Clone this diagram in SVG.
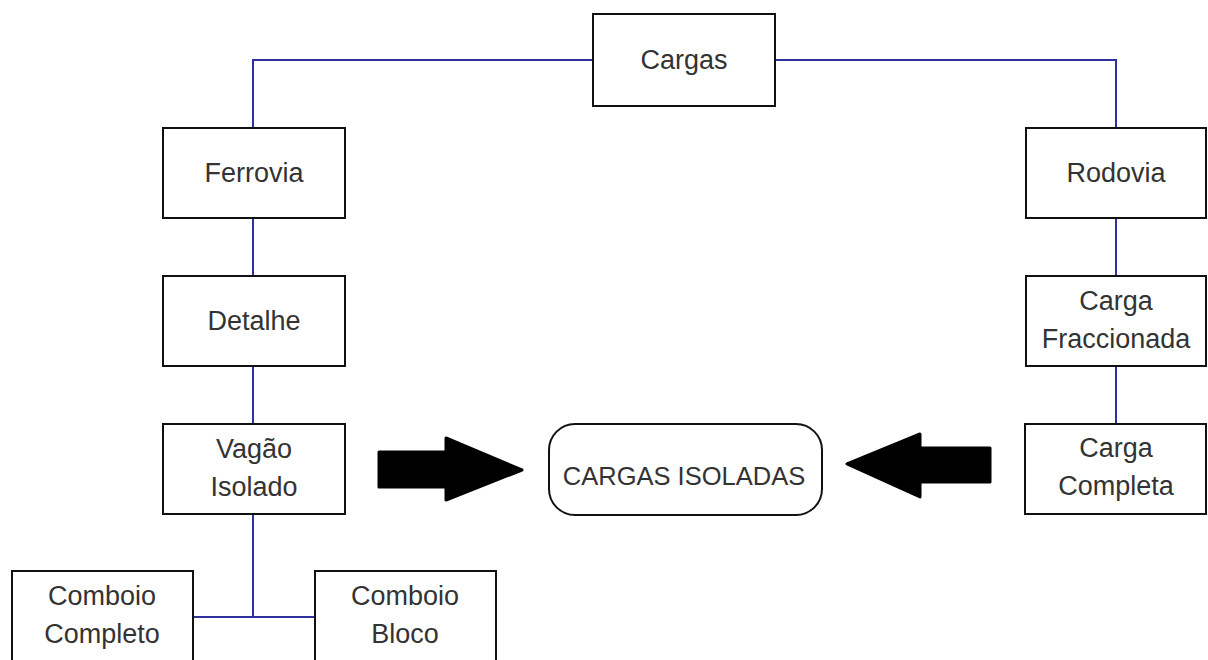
<svg xmlns="http://www.w3.org/2000/svg" width="1208" height="660" viewBox="0 0 1208 660">
<style>
.box{fill:#fff;stroke:#111;stroke-width:2}
.t{font-family:"Liberation Sans",Arial,sans-serif;font-size:27px;fill:#333;text-anchor:middle}
.c{fill:none;stroke:#3030a0;stroke-width:2}
.arr{fill:#000;stroke:#000;stroke-width:3;stroke-linejoin:round}
</style>
<rect width="1208" height="660" fill="#fff"/>
<g id="connectors">
<polyline class="c" points="593,60 253,60 253,128"/>
<polyline class="c" points="775,60 1116,60 1116,128"/>
<line class="c" x1="253" y1="218" x2="253" y2="276"/>
<line class="c" x1="253" y1="366" x2="253" y2="424"/>
<line class="c" x1="253" y1="514" x2="253" y2="617"/>
<line class="c" x1="193" y1="617" x2="315" y2="617"/>
<line class="c" x1="1116" y1="218" x2="1116" y2="276"/>
<line class="c" x1="1116" y1="366" x2="1116" y2="424"/>
</g>
<g id="cargas"><rect class="box" x="593" y="14" width="182" height="92"/><text class="t" x="684" y="69">Cargas</text></g>
<g id="ferrovia"><rect class="box" x="163" y="128" width="182" height="90"/><text class="t" x="254" y="182">Ferrovia</text></g>
<g id="rodovia"><rect class="box" x="1026" y="128" width="180" height="90"/><text class="t" x="1116" y="182">Rodovia</text></g>
<g id="detalhe"><rect class="box" x="163" y="276" width="182" height="90"/><text class="t" x="254" y="330">Detalhe</text></g>
<g id="carga-fraccionada"><rect class="box" x="1026" y="276" width="180" height="90"/><text class="t" x="1116" y="310">Carga</text><text class="t" x="1116" y="348">Fraccionada</text></g>
<g id="vagao-isolado"><rect class="box" x="163" y="424" width="182" height="90"/><text class="t" x="254" y="458">Vagão</text><text class="t" x="254" y="496">Isolado</text></g>
<g id="carga-completa"><rect class="box" x="1025" y="424" width="181" height="90"/><text class="t" x="1116" y="457">Carga</text><text class="t" x="1116" y="495">Completa</text></g>
<g id="cargas-isoladas"><rect class="box" x="549" y="424" width="273" height="91" rx="26" ry="26"/><text class="t" x="684" y="485" style="font-size:25.5px">CARGAS ISOLADAS</text></g>
<g id="comboio-completo"><rect class="box" x="12" y="571" width="181" height="100"/><text class="t" x="102" y="605">Comboio</text><text class="t" x="102" y="643">Completo</text></g>
<g id="comboio-bloco"><rect class="box" x="315" y="571" width="181" height="100"/><text class="t" x="405" y="605">Comboio</text><text class="t" x="405" y="643">Bloco</text></g>
<g id="arrow-right"><polygon class="arr" points="379,452 446,452 446,438 522,470 446,500 446,487 379,487"/></g>
<g id="arrow-left"><polygon class="arr" points="990,448 920,448 920,434 847,464 920,497 920,482 990,482"/></g>
</svg>
